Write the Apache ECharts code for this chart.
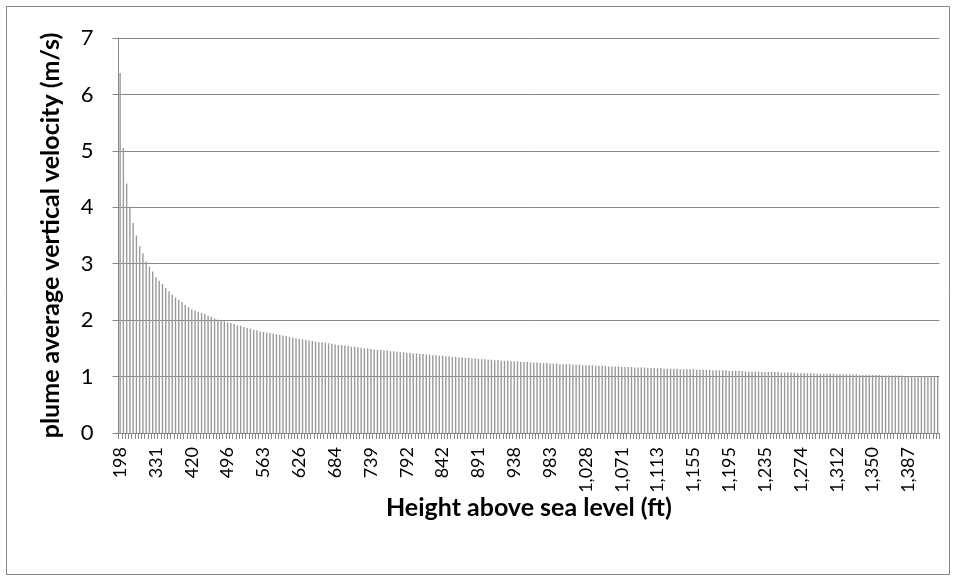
<!DOCTYPE html>
<html>
<head>
<meta charset="utf-8">
<script src="https://cdn.jsdelivr.net/npm/echarts@6/dist/echarts.min.js"></script>
<style>
  html, body { margin: 0; padding: 0; background: #ffffff; }
  #chart { width: 956px; height: 580px; }
</style>
</head>
<body>
<div id="chart"></div>
<script>
// Height of the plume (ft above sea level), one entry per time step
const heightFt = [
  198, 217, 232, 246, 259, 271, 282, 292, 303, 312, 322, 331,
  340, 349, 357, 366, 374, 382, 390, 398, 405, 413, 420,
  427, 434, 442, 449, 456, 463, 469, 476, 483, 489, 496,
  502, 509, 515, 521, 527, 533, 539, 545, 551, 557, 563,
  569, 575, 581, 586, 592, 598, 604, 609, 615, 620, 626,
  631, 637, 642, 647, 653, 658, 663, 668, 674, 679, 684,
  689, 694, 699, 704, 709, 714, 719, 724, 729, 734, 739,
  744, 749, 754, 758, 763, 768, 773, 778, 782, 787, 792,
  797, 801, 806, 810, 815, 819, 824, 828, 833, 837, 842,
  846, 851, 855, 860, 864, 869, 873, 878, 882, 887, 891,
  895, 900, 904, 908, 912, 917, 921, 925, 929, 934, 938,
  942, 946, 950, 954, 958, 963, 967, 971, 975, 979, 983,
  987, 991, 995, 999, 1003, 1008, 1012, 1016, 1020, 1024, 1028,
  1032, 1036, 1040, 1044, 1048, 1051, 1055, 1059, 1063, 1067, 1071,
  1075, 1079, 1082, 1086, 1090, 1094, 1098, 1102, 1105, 1109, 1113,
  1117, 1121, 1124, 1128, 1132, 1136, 1140, 1144, 1147, 1151, 1155,
  1159, 1162, 1166, 1170, 1173, 1177, 1180, 1184, 1188, 1191, 1195,
  1199, 1202, 1206, 1210, 1213, 1217, 1220, 1224, 1228, 1231, 1235,
  1239, 1242, 1246, 1249, 1253, 1256, 1260, 1263, 1267, 1270, 1274,
  1277, 1281, 1284, 1288, 1291, 1295, 1298, 1302, 1305, 1309, 1312,
  1315, 1319, 1322, 1326, 1329, 1333, 1336, 1340, 1343, 1347, 1350,
  1353, 1357, 1360, 1363, 1367, 1370, 1374, 1377, 1380, 1384, 1387,
  1390, 1394, 1397, 1400, 1404, 1407, 1410, 1414, 1417
];

// Plume average vertical velocity (m/s) at each height
const velocity = [
  6.38, 5.05, 4.42, 4.00, 3.72, 3.50, 3.31, 3.18, 3.04, 2.95, 2.86, 2.76,
  2.70, 2.64, 2.57, 2.51, 2.45, 2.40, 2.36, 2.32, 2.27, 2.23, 2.19,
  2.17, 2.15, 2.13, 2.11, 2.08, 2.06, 2.03, 2.01, 2.00, 1.98, 1.96,
  1.95, 1.93, 1.91, 1.90, 1.88, 1.86, 1.85, 1.83, 1.82, 1.80, 1.79,
  1.78, 1.77, 1.76, 1.75, 1.74, 1.73, 1.72, 1.70, 1.69, 1.68, 1.67,
  1.66, 1.65, 1.64, 1.63, 1.62, 1.61, 1.61, 1.60, 1.59, 1.58, 1.57,
  1.56, 1.56, 1.55, 1.54, 1.53, 1.53, 1.52, 1.51, 1.50, 1.50, 1.49,
  1.48, 1.47, 1.47, 1.46, 1.46, 1.45, 1.45, 1.44, 1.43, 1.43, 1.42,
  1.42, 1.41, 1.41, 1.40, 1.40, 1.39, 1.39, 1.38, 1.38, 1.37, 1.37,
  1.36, 1.36, 1.35, 1.35, 1.34, 1.34, 1.33, 1.33, 1.32, 1.32, 1.31,
  1.31, 1.31, 1.30, 1.30, 1.29, 1.29, 1.28, 1.28, 1.28, 1.27, 1.27,
  1.27, 1.26, 1.26, 1.26, 1.25, 1.25, 1.25, 1.24, 1.24, 1.24, 1.23,
  1.23, 1.23, 1.22, 1.22, 1.22, 1.22, 1.21, 1.21, 1.21, 1.20, 1.20,
  1.20, 1.20, 1.19, 1.19, 1.19, 1.19, 1.18, 1.18, 1.18, 1.18, 1.17,
  1.17, 1.17, 1.17, 1.16, 1.16, 1.16, 1.16, 1.15, 1.15, 1.15, 1.15,
  1.15, 1.14, 1.14, 1.14, 1.14, 1.14, 1.13, 1.13, 1.13, 1.13, 1.13,
  1.12, 1.12, 1.12, 1.12, 1.12, 1.11, 1.11, 1.11, 1.11, 1.11, 1.10,
  1.10, 1.10, 1.10, 1.10, 1.09, 1.09, 1.09, 1.09, 1.09, 1.08, 1.08,
  1.08, 1.08, 1.08, 1.08, 1.07, 1.07, 1.07, 1.07, 1.07, 1.06, 1.06,
  1.06, 1.06, 1.06, 1.06, 1.05, 1.05, 1.05, 1.05, 1.05, 1.05, 1.04,
  1.04, 1.04, 1.04, 1.04, 1.04, 1.04, 1.03, 1.03, 1.03, 1.03, 1.03,
  1.03, 1.03, 1.02, 1.02, 1.02, 1.02, 1.02, 1.02, 1.02, 1.01, 1.01,
  1.01, 1.01, 1.01, 1.01, 1.01, 1.01, 1.00, 1.00, 1.00
];

const xTitle = 'Height above sea level (ft)';
const yTitle = 'plume average vertical velocity (m/s)';

const FONT = 'Lato, "Open Sans", sans-serif';
const AXIS_GRAY = '#868686';

const chart = echarts.init(document.getElementById('chart'), null, { renderer: 'canvas' });

chart.setOption({
  animation: false,
  backgroundColor: '#ffffff',
  textStyle: { fontFamily: FONT },
  graphic: [{
    type: 'rect',
    shape: { x: 6.5, y: 6.5, width: 943, height: 568 },
    style: { fill: 'none', stroke: AXIS_GRAY, lineWidth: 1 },
    silent: true,
    z: -1
  }],
  grid: { left: 118.5, right: 16.7, top: 38, bottom: 147, containLabel: false },
  xAxis: {
    type: 'category',
    data: heightFt,
    boundaryGap: true,
    name: xTitle,
    nameLocation: 'middle',
    nameGap: 62,
    nameMoveOverlap: false,
    nameTextStyle: { fontFamily: FONT, fontWeight: 'bold', fontSize: 25, color: '#000' },
    axisLine: { show: true, lineStyle: { color: AXIS_GRAY, width: 1 } },
    axisTick: { show: true, interval: 0, length: 6, lineStyle: { color: AXIS_GRAY } },
    axisLabel: {
      interval: 10,
      rotate: 90,
      margin: 14,
      fontFamily: FONT,
      fontSize: 18,
      color: '#000',
      formatter: v => Number(v).toLocaleString('en-US')
    },
    splitLine: { show: false }
  },
  yAxis: {
    type: 'value',
    min: 0,
    max: 7,
    interval: 1,
    name: yTitle,
    nameLocation: 'middle',
    nameGap: 55,
    nameMoveOverlap: false,
    nameTextStyle: { fontFamily: FONT, fontWeight: 'bold', fontSize: 25, color: '#000' },
    axisLine: { show: true, lineStyle: { color: AXIS_GRAY, width: 1 } },
    axisTick: { show: true, length: 6, lineStyle: { color: AXIS_GRAY } },
    axisLabel: { margin: 25, fontFamily: FONT, fontSize: 22, color: '#000' },
    splitLine: { show: true, lineStyle: { color: AXIS_GRAY, width: 1 } }
  },
  series: [{
    type: 'bar',
    data: velocity,
    barWidth: 1.4,
    itemStyle: { color: '#9a9a9a' },
    emphasis: { disabled: true }
  }]
});
</script>
</body>
</html>
